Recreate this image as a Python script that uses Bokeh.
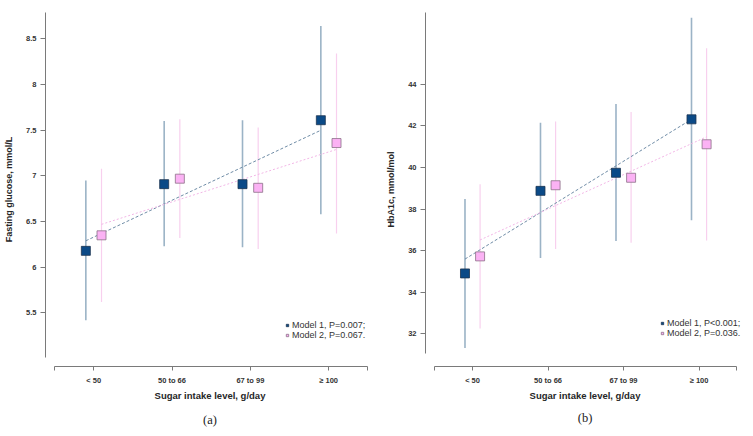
from bokeh.plotting import figure
from bokeh.layouts import row
from bokeh.models import FixedTicker, Legend, LegendItem, Title
from bokeh.embed import file_html
from bokeh.resources import INLINE

categories = ["< 50", "50 to 66", "67 to 99", "≥ 100"]
x_label = "Sugar intake level, g/day"

# Panel (a): fasting glucose
a_m1_est = [6.18, 6.91, 6.91, 7.61]
a_m1_lo = [5.42, 6.23, 6.22, 6.58]
a_m1_hi = [6.95, 7.60, 7.61, 8.64]
a_m2_est = [6.35, 6.97, 6.87, 7.36]
a_m2_lo = [5.62, 6.32, 6.20, 6.37]
a_m2_hi = [7.08, 7.62, 7.53, 8.34]
a_m1_trend = [6.29, 7.50]
a_m2_trend = [6.47, 7.29]
a_yticks = [5.5, 6, 6.5, 7, 7.5, 8, 8.5]
a_ylabels = ["5.5", "6", "6.5", "7", "7.5", "8", "8.5"]
a_ylabel = "Fasting glucose, mmol/L"
a_legend = ["Model 1, P=0.007;", "Model 2, P=0.067."]

# Panel (b): HbA1c
b_m1_est = [34.91, 38.88, 39.75, 42.32]
b_m1_lo = [31.32, 35.65, 36.47, 37.47]
b_m1_hi = [38.49, 42.15, 43.06, 47.20]
b_m2_est = [35.73, 39.15, 39.51, 41.12]
b_m2_lo = [32.26, 36.08, 36.39, 36.49]
b_m2_hi = [39.20, 42.22, 42.67, 45.74]
b_m1_trend = [35.60, 42.32]
b_m2_trend = [36.52, 41.48]
b_yticks = [32, 34, 36, 38, 40, 42, 44]
b_ylabels = ["32", "34", "36", "38", "40", "42", "44"]
b_ylabel = "HbA1c, mmol/mol"
b_legend = ["Model 1, P<0.001;", "Model 2, P=0.036."]

BLUE = "#0b4a87"
BLUE_EDGE = "#1d3550"
BLUE_BAR = "#9bb3c6"
BLUE_TREND = "#6f8ca6"
PINK = "#fbb2f4"
PINK_EDGE = "#8c7088"
PINK_BAR = "#f8d0ee"
PINK_TREND = "#f2b6e6"
FONT = "Liberation Sans"


def panel(m1, m1lo, m1hi, m2, m2lo, m2hi, t1, t2, yticks, ylabels, ylabel,
          legend_labels, tag, width, height, xr, yr, ybounds, borders, leg_loc, tag_standoff):
    p = figure(width=width, height=height, x_range=xr, y_range=yr,
               output_backend="svg", toolbar_location=None,
               min_border_left=borders[0], min_border_right=borders[1],
               min_border_top=borders[2], min_border_bottom=borders[3])
    p.grid.visible = False
    p.outline_line_color = None
    n = len(categories)
    idx = list(range(n))
    x1 = [i - 0.1 for i in idx]
    x2 = [i + 0.1 for i in idx]
    # error bars
    p.segment(x0=x1, x1=x1, y0=m1lo, y1=m1hi, line_color=BLUE_BAR, line_width=1.6)
    p.segment(x0=x2, x1=x2, y0=m2lo, y1=m2hi, line_color=PINK_BAR, line_width=1.2)
    # trend lines
    p.line(x=[x1[0], x1[-1]], y=t1, line_color=BLUE_TREND, line_dash="3 2", line_width=1)
    p.line(x=[x2[0], x2[-1]], y=t2, line_color=PINK_TREND, line_dash="2 2", line_width=1)
    r1 = p.scatter(x=x1, y=m1, marker="square", size=9, fill_color=BLUE,
                   line_color=BLUE_EDGE, line_width=0.8)
    r2 = p.scatter(x=x2, y=m2, marker="square", size=9, fill_color=PINK,
                   line_color=PINK_EDGE, line_width=0.8)

    xa = p.xaxis[0]
    xa.ticker = FixedTicker(ticks=[-0.5] + idx + [n - 0.5])
    xa.major_label_overrides = {**{i: c for i, c in zip(idx, categories)}, -0.5: "", n - 0.5: ""}
    xa.bounds = (-0.5, n - 0.5)
    xa.axis_label = x_label
    ya = p.yaxis[0]
    ya.ticker = FixedTicker(ticks=yticks)
    ya.major_label_overrides = {t: l for t, l in zip(yticks, ylabels)}
    ya.bounds = ybounds
    ya.axis_label = ylabel
    for ax in (xa, ya):
        ax.minor_tick_line_color = None
        ax.axis_line_color = "#7a7a7a"
        ax.major_tick_line_color = "#7a7a7a"
        ax.major_tick_in = 0
        ax.major_tick_out = 4
        ax.major_label_text_font = FONT
        ax.major_label_text_font_size = "7.5px"
        ax.major_label_text_font_style = "bold"
        ax.major_label_text_color = "#333333"
        ax.axis_label_text_font = FONT
        ax.axis_label_text_font_style = "bold"
        ax.axis_label_text_color = "#262626"
    xa.major_label_standoff = 5
    ya.major_label_standoff = 4
    xa.axis_label_text_font_size = "9.5px"
    xa.axis_label_standoff = 2
    ya.axis_label_text_font_size = "9px"
    ya.axis_label_standoff = 9
    ya.major_tick_out = 5

    leg = Legend(items=[LegendItem(label=legend_labels[0], renderers=[r1]),
                        LegendItem(label=legend_labels[1], renderers=[r2])],
                 location=leg_loc, padding=0, margin=0, spacing=-4,
                 glyph_width=6, glyph_height=6, label_standoff=2,
                 label_text_font=FONT, label_text_font_size="9px",
                 label_text_color="#333333", border_line_color=None,
                 background_fill_alpha=0)
    p.add_layout(leg, "center")
    t = Title(text=tag, align="center", text_font="Liberation Serif",
              text_font_size="12.5px", text_font_style="normal", text_color="#222222",
              standoff=tag_standoff)
    p.add_layout(t, "below")
    return p


pa = panel(a_m1_est, a_m1_lo, a_m1_hi, a_m2_est, a_m2_lo, a_m2_hi, a_m1_trend, a_m2_trend,
           a_yticks, a_ylabels, a_ylabel, a_legend, "(a)",
           378, 434, (-0.615, 3.585), (4.914, 8.789), (5.01, 8.789), (45, 4, 10, 66), (239, 26), 15)
pb = panel(b_m1_est, b_m1_lo, b_m1_hi, b_m2_est, b_m2_lo, b_m2_hi, b_m1_trend, b_m2_trend,
           b_yticks, b_ylabels, b_ylabel, b_legend, "(b)",
           374, 434, (-0.623, 3.602), (30.435, 47.456), (31.04, 47.456), (47, 8, 12, 62), (234, 28), 11)

layout = row(pa, pb)
open("out.html", "w").write(file_html(layout, INLINE))
